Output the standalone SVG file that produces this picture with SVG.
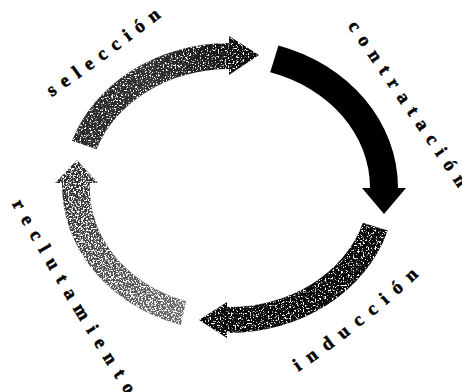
<svg xmlns="http://www.w3.org/2000/svg" width="462" height="392" viewBox="0 0 462 392">
<style>
.lbl{font-family:"Liberation Serif","Times New Roman",serif;font-weight:bold;font-size:19px;fill:#000;stroke:#000;stroke-width:0.5px}
.arrow{stroke:none}
</style>
<defs>
<filter id="spk" x="0" y="0" width="1" height="1" color-interpolation-filters="sRGB">
<feTurbulence type="fractalNoise" baseFrequency="0.6" numOctaves="2" seed="4" result="n"/>
<feColorMatrix in="n" type="matrix" values="0 0 0 0 1  0 0 0 0 1  0 0 0 0 1  8 0 0 0 -4.5" result="w"/>
<feComposite in="w" in2="SourceAlpha" operator="in" result="wm"/>
<feMerge><feMergeNode in="SourceGraphic"/><feMergeNode in="wm"/></feMerge>
</filter>
<filter id="spkL" x="0" y="0" width="1" height="1" color-interpolation-filters="sRGB">
<feTurbulence type="fractalNoise" baseFrequency="0.6" numOctaves="2" seed="9" result="n"/>
<feColorMatrix in="n" type="matrix" values="0 0 0 0 1  0 0 0 0 1  0 0 0 0 1  8 0 0 0 -3.9" result="w"/>
<feComposite in="w" in2="SourceAlpha" operator="in" result="wm"/>
<feMerge><feMergeNode in="SourceGraphic"/><feMergeNode in="wm"/></feMerge>
</filter>
<linearGradient id="gRec" gradientUnits="userSpaceOnUse" x1="180" y1="320" x2="70" y2="165">
<stop offset="0" stop-color="#6a6a6a"/><stop offset="1" stop-color="#2a2a2a"/>
</linearGradient>
<linearGradient id="gSel" gradientUnits="userSpaceOnUse" x1="80" y1="145" x2="255" y2="55">
<stop offset="0" stop-color="#2a2a2a"/><stop offset="0.5" stop-color="#333"/><stop offset="1" stop-color="#0a0a0a"/>
</linearGradient>
<path id="tSel" d="M52,97 Q101.5,63 161,17"/>
<path id="tCon" d="M347.5,25.9 L470,205"/>
<path id="tInd" d="M298.4,371.6 Q366.8,325.7 430,265"/>
<path id="tRec" d="M11.6,203.6 Q77.4,320.2 140,416"/>
</defs>
<rect width="462" height="392" fill="#fff"/>
<g id="connectors">
<path id="arrow-seleccion" class="arrow" fill="url(#gSel)" filter="url(#spk)" d="M72,140.8 A166 145 0 0 1 229,43 L229,36 L259,55 L229,75 L229,69 A140 119 0 0 0 96.6,149.3 Z"/>
<path id="arrow-contratacion" class="arrow" fill="#000" d="M278.4,45.5 A169 149 0 0 1 398,188 L406,188 L384,214 L362,188 L370,188 A141 121 0 0 0 270.2,72.3 Z"/>
<path id="arrow-induccion" class="arrow" fill="#0a0a0a" filter="url(#spk)" d="M387.7,230.4 A166 145 0 0 1 227,333 L227,338 L199,320 L227,302 L227,307 A140 119 0 0 0 362.9,222.8 Z"/>
<path id="arrow-reclutamiento" class="arrow" fill="url(#gRec)" filter="url(#spkL)" d="M181,325 A167 146 0 0 1 62,183 L55,183 L77,160 L98,183 L90,183 A139 118 0 0 0 186,301 Z"/>
</g>
<g id="seleccion"><text class="lbl" letter-spacing="8"><textPath href="#tSel" startOffset="0">selección</textPath></text></g>
<g id="contratacion"><text class="lbl" letter-spacing="8.55"><textPath href="#tCon" startOffset="0">contratación</textPath></text></g>
<g id="induccion"><text class="lbl" letter-spacing="9.4"><textPath href="#tInd" startOffset="0">inducción</textPath></text></g>
<g id="reclutamiento"><text class="lbl" letter-spacing="9.2"><textPath href="#tRec" startOffset="0">reclutamiento</textPath></text></g>
</svg>
